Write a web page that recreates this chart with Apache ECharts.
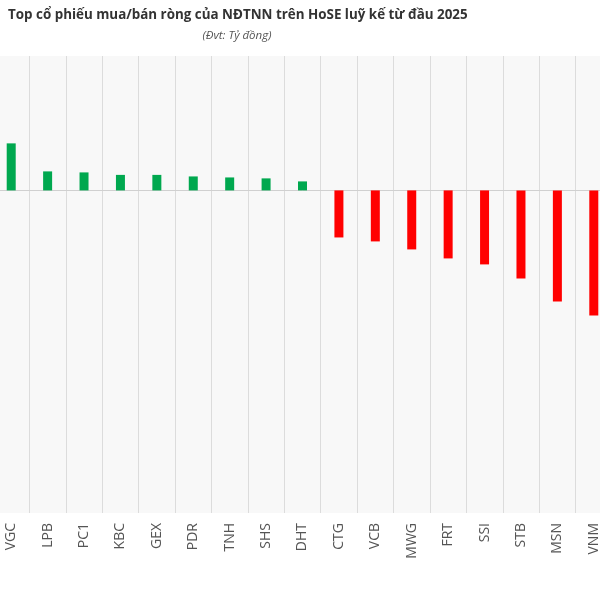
<!DOCTYPE html>
<html><head><meta charset="utf-8">
<script src="https://cdn.jsdelivr.net/npm/echarts@6/dist/echarts.min.js"></script>
<style>html,body{margin:0;padding:0;background:#fff;overflow:hidden;width:600px;height:600px}#c{width:619px;height:600px;margin-left:-7px}</style>
</head><body><div id="c"></div>
<script>
const categories = ["VGC","LPB","PC1","KBC","GEX","PDR","TNH","SHS","DHT","CTG","VCB","MWG","FRT","SSI","STB","MSN","VNM"];
const values = [700,283,268,231,231,208,193,179,134,-700,-759,-878,-1012,-1101,-1310,-1652,-1860];
const titleText = "Top cổ phiếu mua/bán ròng của NĐTNN trên HoSE luỹ kế từ đầu 2025";
const subText = "(Đvt: Tỷ đồng)";

const chart = echarts.init(document.getElementById('c'), null, {renderer:'canvas'});
chart.setOption({
  animation:false,
  backgroundColor:'#ffffff',
  title:[
    {text:titleText, left:15, top:9, padding:0, textStyle:{fontFamily:'Open Sans', fontWeight:'bold', fontSize:13.4, color:'#333'}},
    {text:subText, left:244, top:30, padding:0, textAlign:'center', textStyle:{fontFamily:'Open Sans', fontStyle:'italic', fontWeight:'normal', fontSize:11.5, color:'#555'}}
  ],
  grid:{left:0, right:0, top:56, bottom:87, show:true, backgroundColor:'#f8f8f8', borderWidth:0},
  xAxis:{type:'category', data:categories,
    axisLine:{show:true, onZero:true, lineStyle:{color:'#d0d0d0', width:1}},
    axisTick:{show:false},
    splitLine:{show:true, lineStyle:{color:'#dcdcdc', width:1}},
    axisLabel:{rotate:90, margin:10, fontFamily:'Open Sans', fontSize:14, color:'#555'},
    position:'bottom'
  },
  yAxis:{type:'value', min:-4800, max:2000, show:false, splitLine:{show:false}},
  series:[{type:'bar', barWidth:9,
    data: values.map(v=>({value:v, itemStyle:{color: v>=0 ? '#00a84f' : '#ff0000'}}))
  }]
});
</script></body></html>
